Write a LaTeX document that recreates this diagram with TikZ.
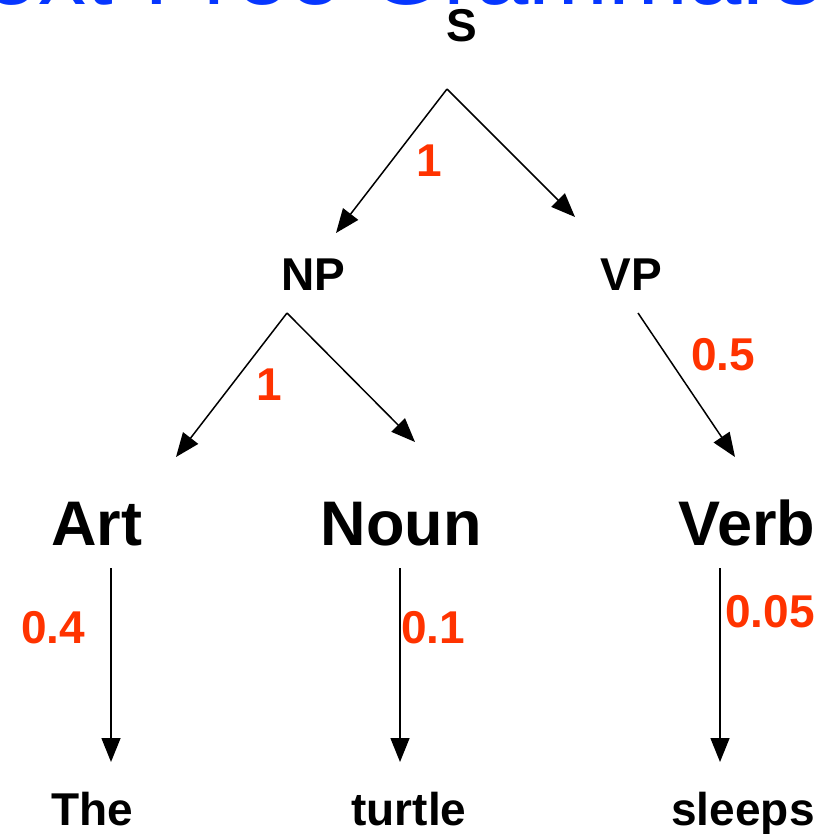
\documentclass[tikz,border=0pt]{standalone}
\usepackage{fontspec}
\setmainfont{Liberation Sans}
\usetikzlibrary{arrows.meta}
\definecolor{titleblue}{HTML}{0636FF}
\definecolor{probred}{HTML}{FF3300}
\begin{document}
\begin{tikzpicture}[x=1pt,y=-1pt,
  cat/.style={anchor=base,inner sep=0pt,font=\fontsize{46}{50}\selectfont\bfseries},
  poscat/.style={anchor=base,inner sep=0pt,font=\fontsize{63}{70}\selectfont\bfseries},
  prob/.style={anchor=base,inner sep=0pt,text=probred,font=\fontsize{46}{50}\selectfont\bfseries},
  rule/.style={line width=1.5pt,-{Triangle[length=24pt,width=19pt]}}]
\useasboundingbox (0,0) rectangle (824,834);
\clip (0,0) rectangle (824,834);

% slide title, mostly above the visible area
\node[anchor=base west,inner sep=0pt,text=titleblue,font=\fontsize{96}{96}\selectfont] (title) at (-218,5) {Context-Free Grammars};

% tree labels
\node[cat] (S)  at (462,42)  {S};
\node[cat] (NP) at (313,290) {NP};
\node[cat] (VP) at (631,290) {VP};
\node[poscat] (Art)  at (97,545)  {Art};
\node[poscat] (Noun) at (401,545) {Noun};
\node[poscat] (Verb) at (747,545) {Verb};
\node[cat] (The)    at (92,825)  {The};
\node[cat] (turtle) at (409,825) {turtle};
\node[cat] (sleeps) at (743,825) {sleeps};

% branch end points
\coordinate (sFork)  at (447,89);
\coordinate (npTip)  at (336,233);
\coordinate (vpTip)  at (575,217);
\coordinate (npFork) at (287,313);
\coordinate (artTip) at (176,457);
\coordinate (nounTip) at (415,442);
\coordinate (vpFoot) at (638,313);
\coordinate (verbTip) at (735,457);
\coordinate (artFoot)  at (111,568);
\coordinate (theTip)   at (111,762);
\coordinate (nounFoot) at (400,568);
\coordinate (turtleTip) at (400,762);
\coordinate (verbFoot) at (720,568);
\coordinate (sleepsTip) at (720,762);

% rewrite arrows
\draw[rule] (sFork) -- (npTip);
\draw[rule] (sFork) -- (vpTip);
\draw[rule] (npFork) -- (artTip);
\draw[rule] (npFork) -- (nounTip);
\draw[rule] (vpFoot) -- (verbTip);
\draw[rule] (artFoot) -- (theTip);
\draw[rule] (nounFoot) -- (turtleTip);
\draw[rule] (verbFoot) -- (sleepsTip);

% rule probabilities
\node[prob] (pS)    at (429,177) {1};
\node[prob] (pNP)   at (269,400) {1};
\node[prob] (pVP)   at (723,370) {0.5};
\node[prob] (pArt)  at (53,643)  {0.4};
\node[prob] (pNoun) at (433,643) {0.1};
\node[prob] (pVerb) at (770,627) {0.05};
\end{tikzpicture}
\end{document}
